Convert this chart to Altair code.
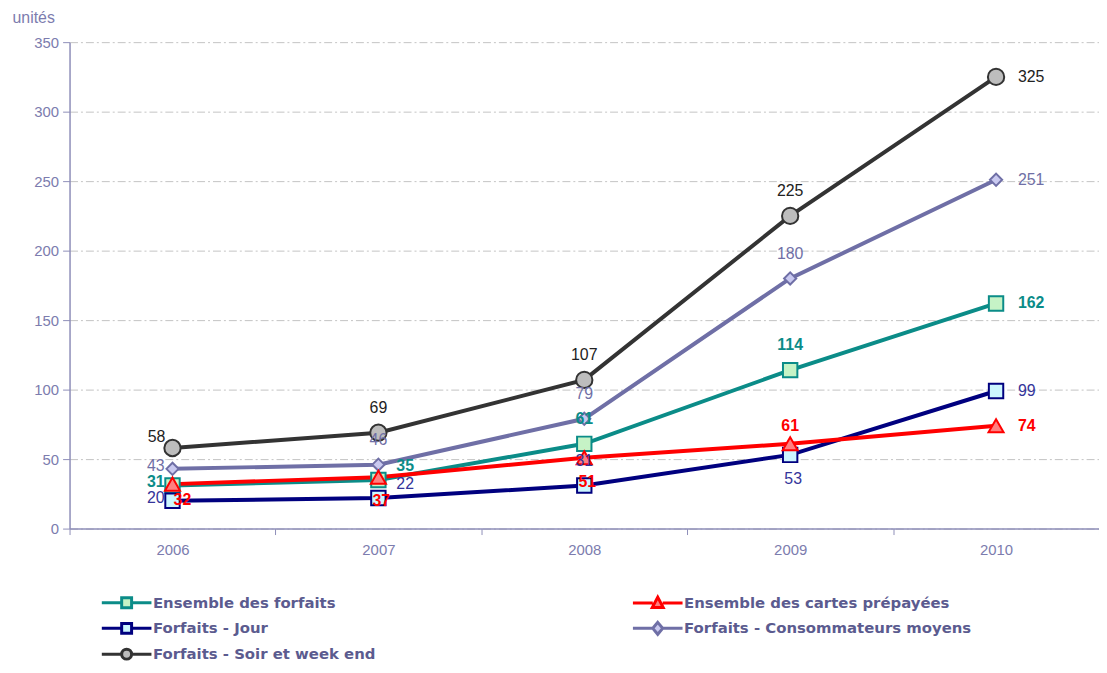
import altair as alt
import pandas as pd

years = ["2006", "2007", "2008", "2009", "2010"]
series_names = [
    "Ensemble des forfaits",
    "Ensemble des cartes prépayées",
    "Forfaits - Jour",
    "Forfaits - Consommateurs moyens",
    "Forfaits - Soir et week end",
]
forfaits = [31, 35, 61, 114, 162]
prepayees = [32, 37, 51, 61, 74]
jour = [20, 22, 31, 53, 99]
moyens = [43, 46, 79, 180, 251]
soir = [58, 69, 107, 225, 325]

# label placement around each point
pos_forfaits = ["left", "aboveright", "above", "above", "right"]
pos_prepayees = ["belowright", "below", "below", "aboveclose", "right"]
pos_jour = ["left", "aboveright", "above", "below", "right"]
pos_moyens = ["left", "above", "above", "above", "right"]
pos_soir = ["aboveleft", "above", "above", "above", "right"]

# styles
line_colors = ["#0b8c88", "#ff0000", "#00007f", "#6f6fa6", "#333333"]
fill_colors = ["#c6f3c6", "#ff8080", "#ccf6ff", "#c9c9f0", "#bdbdbd"]
label_colors = ["#0b8c88", "#ff0000", "#34349a", "#6f6fa6", "#222222"]
label_weights = ["bold", "bold", "normal", "normal", "normal"]
shapes = ["square", "triangle-up", "square", "diamond", "circle"]
sizes = [210, 230, 210, 150, 270]
legend_paths = [
    "M-5,0H-1M1,0H5M-1,-1H1V1H-1Z",
    "M-5,0H-1M1,0H5M0,-1.2L1.1,0.9H-1.1Z",
    "M-5,0H-1M1,0H5M-1,-1H1V1H-1Z",
    "M-5,0H-1M1,0H5M0,-1.2L1,0L0,1.2L-1,0Z",
    "M-5,0H-1M1,0H5M-1,0A1,1 0 1,0 1,0A1,1 0 1,0 -1,0Z",
]
offsets = {
    "above": dict(dx=0, dy=-25, align="center"),
    "aboveclose": dict(dx=0, dy=-18, align="center"),
    "below": dict(dx=3, dy=24, align="center"),
    "left": dict(dx=-8, dy=-3, align="right"),
    "right": dict(dx=22, dy=0, align="left"),
    "aboveleft": dict(dx=-16, dy=-11, align="center"),
    "aboveright": dict(dx=27, dy=-14, align="center"),
    "belowright": dict(dx=10, dy=16, align="center"),
}

all_values = [forfaits, prepayees, jour, moyens, soir]
all_pos = [pos_forfaits, pos_prepayees, pos_jour, pos_moyens, pos_soir]
draw_order = [4, 3, 0, 2, 1]

rows = []
for i in draw_order:
    for y, v, p in zip(years, all_values[i], all_pos[i]):
        rows.append(dict(
            year=y, series=series_names[i], value=v, pos=p,
            stroke=line_colors[i], fill=fill_colors[i], lcolor=label_colors[i],
            weight=label_weights[i], shape=shapes[i], size=sizes[i],
        ))
df = pd.DataFrame(rows)

axis_col = "#8e8eb8"
lab_col = "#7c7cae"

x_enc = alt.X(
    "year:O",
    scale=alt.Scale(type="band", paddingInner=0, paddingOuter=0),
    bandPosition=0.5,
    axis=alt.Axis(title=None, labelAngle=0, tickBand="extent", tickSize=6,
                  labelPadding=8, grid=False),
)
y_enc = alt.Y(
    "value:Q",
    scale=alt.Scale(domain=[0, 350], nice=False),
    axis=alt.Axis(values=[0, 50, 100, 150, 200, 250, 300, 350], title="unités",
                  titleAngle=0, titleX=-58, titleY=-20, titleAlign="left",
                  titleBaseline="alphabetic", titleFontSize=16, titleFontWeight="normal",
                  titleColor=lab_col, titleFont="Liberation Sans",
                  tickSize=7, labelPadding=4, grid=True,
                  gridDash=[8, 3, 2, 3], gridColor="#c4c4c4"),
)

base = alt.Chart(df)

lines = base.mark_line(strokeWidth=4).encode(
    x=x_enc, y=y_enc,
    color=alt.Color("stroke:N", scale=None),
    detail="series:N",
)

points = base.mark_point(filled=True, opacity=1, strokeWidth=2).encode(
    x=x_enc, y=y_enc,
    shape=alt.Shape("shape:N", scale=None),
    size=alt.Size("size:Q", scale=None),
    fill=alt.Fill("fill:N", scale=None),
    stroke=alt.Stroke("stroke:N", scale=None),
)

label_layers = []
for pname, off in offsets.items():
    for w in ["bold", "normal"]:
        sub = df[(df["pos"] == pname) & (df["weight"] == w)]
        if len(sub) == 0:
            continue
        label_layers.append(
            alt.Chart(sub).mark_text(
                dx=off["dx"], dy=off["dy"], align=off["align"], baseline="middle",
                fontSize=16, fontWeight=w, font="Liberation Sans",
            ).encode(
                x=x_enc, y=y_enc,
                text="value:Q",
                color=alt.Color("lcolor:N", scale=None),
            )
        )

leg = alt.Legend(
    title=None, orient="none", legendX=50, legendY=557, columns=2, direction="horizontal",
    columnPadding=252, rowPadding=2, symbolSize=100, symbolStrokeWidth=3,
    symbolOpacity=1, labelOffset=19, labelFontSize=15, labelFontWeight="bold",
    labelColor="#5b5b8f", labelFont="DejaVu Sans", labelLimit=400,
)
legend_layer = alt.Chart(df[df["year"] == "2006"]).mark_point(opacity=0, filled=True).encode(
    x=x_enc, y=y_enc,
    stroke=alt.Stroke("series:N", scale=alt.Scale(domain=series_names, range=line_colors),
                      sort=series_names, legend=leg),
    fill=alt.Fill("series:N", scale=alt.Scale(domain=series_names, range=fill_colors),
                  sort=series_names, legend=leg),
    shape=alt.Shape("series:N", scale=alt.Scale(domain=series_names, range=legend_paths),
                    sort=series_names, legend=leg),
)

chart = alt.layer(legend_layer, lines, points, *label_layers).properties(
    width=1037, height=490,
    autosize=alt.AutoSizeParams(type="none"),
    padding={"left": 62, "top": 32, "right": 0, "bottom": 135},
).configure_view(stroke=None).configure_axis(
    domainColor=axis_col, tickColor=axis_col, labelColor=lab_col,
    labelFontSize=15, labelFont="Liberation Sans", domainWidth=1.5,
)

chart.save("out.html", embed_options={"renderer": "svg", "actions": False})
